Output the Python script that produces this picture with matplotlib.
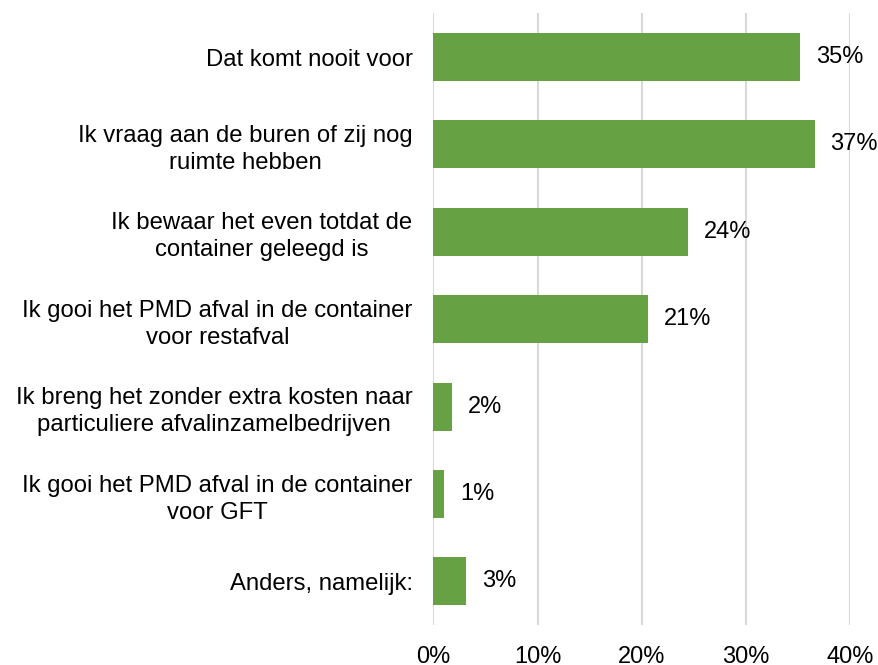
import matplotlib.pyplot as plt
from matplotlib.ticker import FuncFormatter

plt.rcParams['font.family'] = ['Liberation Sans', 'DejaVu Sans']

# -----------------------------
# Data
# -----------------------------
categories = [
    "Dat komt nooit voor",
    "Ik vraag aan de buren of zij nog\nruimte hebben",
    "Ik bewaar het even totdat de\ncontainer geleegd is",
    "Ik gooi het PMD afval in de container\nvoor restafval",
    "Ik breng het zonder extra kosten naar\nparticuliere afvalinzamelbedrijven",
    "Ik gooi het PMD afval in de container\nvoor GFT",
    "Anders, namelijk:",
]
values = [35.2, 36.6, 24.4, 20.6, 1.8, 1.0, 3.1]
xticks = [0, 10, 20, 30, 40]

bar_color = "#66A143"
grid_color = "#D9D9D9"

fig = plt.figure(figsize=(8.79, 6.65), dpi=100)
ax = fig.add_axes([0.493, 0.060, 0.474, 0.920])

y = list(range(len(categories)))
ax.barh(y, values, height=0.55, color=bar_color, zorder=3)

# value labels next to each bar
for yi, v in zip(y, values):
    ax.annotate(f"{round(v)}%", xy=(v, yi), xytext=(16, 0),
                textcoords="offset pixels",
                va="center", ha="left", fontsize=17, color="black")

ax.set_xlim(0, 40)
ax.set_ylim(len(categories) - 0.5, -0.5)
ax.set_xticks(xticks)
ax.xaxis.set_major_formatter(FuncFormatter(lambda x, _: f"{x:.0f}%"))
ax.set_yticks(y)
ax.set_yticklabels(categories, multialignment="center", linespacing=1.3,
                   fontsize=17.2)

ax.grid(axis="x", color=grid_color, linewidth=1.5, zorder=0)
for s in ax.spines.values():
    s.set_visible(False)
ax.tick_params(axis="both", length=0, colors="black")
ax.tick_params(axis="x", labelsize=17, pad=15)
ax.tick_params(axis="y", pad=15)

plt.savefig("out.png", dpi=100)
